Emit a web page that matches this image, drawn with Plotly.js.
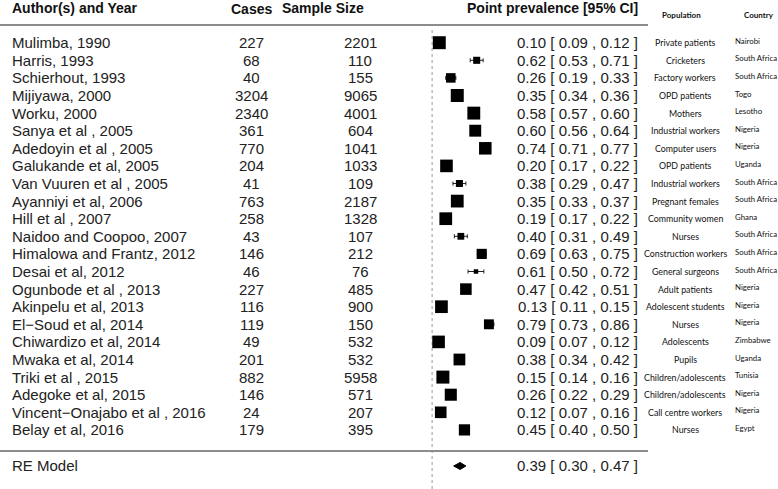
<!DOCTYPE html>
<html>
<head>
<meta charset="utf-8">
<script src="https://cdn.plot.ly/plotly-3.0.1.min.js"></script>
<style>html,body{margin:0;padding:0;background:#fff;}#chart{width:778px;height:489px;}</style>
</head>
<body>
<div id="chart"></div>
<script>
// ---- data ----
const authors = ["Mulimba, 1990","Harris, 1993","Schierhout, 1993","Mijiyawa, 2000","Worku, 2000","Sanya et al , 2005","Adedoyin et al , 2005","Galukande et al, 2005","Van Vuuren et al , 2005","Ayanniyi et al, 2006","Hill et al , 2007","Naidoo and Coopoo, 2007","Himalowa and Frantz, 2012","Desai et al, 2012","Ogunbode et al , 2013","Akinpelu et al, 2013","El\u2212Soud et al, 2014","Chiwardizo et al, 2014","Mwaka et al, 2014","Triki et al , 2015","Adegoke et al, 2015","Vincent\u2212Onajabo et al , 2016","Belay et al, 2016"];
const cases = [227,68,40,3204,2340,361,770,204,41,763,258,43,146,46,227,116,119,49,201,882,146,24,179];
const sampleSize = [2201,110,155,9065,4001,604,1041,1033,109,2187,1328,107,212,76,485,900,150,532,532,5958,571,207,395];
const estimate = [0.10,0.62,0.26,0.35,0.58,0.60,0.74,0.20,0.38,0.35,0.19,0.40,0.69,0.61,0.47,0.13,0.79,0.09,0.38,0.15,0.26,0.12,0.45];
const ciLower = [0.09,0.53,0.19,0.34,0.57,0.56,0.71,0.17,0.29,0.33,0.17,0.31,0.63,0.50,0.42,0.11,0.73,0.07,0.34,0.14,0.22,0.07,0.40];
const ciUpper = [0.12,0.71,0.33,0.36,0.60,0.64,0.77,0.22,0.47,0.37,0.22,0.49,0.75,0.72,0.51,0.15,0.86,0.12,0.42,0.16,0.29,0.16,0.50];
const population = ["Private patients","Cricketers","Factory workers","OPD patients","Mothers","Industrial workers","Computer users","OPD patients","Industrial workers","Pregnant females","Community women","Nurses","Construction workers","General surgeons","Adult patients","Adolescent students","Nurses","Adolescents","Pupils","Children/adolescents","Children/adolescents","Call centre workers","Nurses"];
const country = ["Nairobi","South Africa","South Africa","Togo","Lesotho","Nigeria","Nigeria","Uganda","South Africa","South Africa","Ghana","South Africa","South Africa","South Africa","Nigeria","Nigeria","Nigeria","Zimbabwe","Uganda","Tunisia","Nigeria","Nigeria","Egypt"];
const reLabel = "RE Model";
const reEstimate = 0.39, reLower = 0.30, reUpper = 0.47;

// ---- layout constants ----
const W = 778, H = 489;
const rows = authors.map((_, i) => i);
const reRow = 24.05;
const px = x => x / W;

// random-effects weights (DerSimonian-Laird) for square sizes
const p = cases.map((c, i) => c / sampleSize[i]);
const vi = p.map((pi, i) => pi * (1 - pi) / sampleSize[i]);
const wf = vi.map(v => 1 / v);
const sw = wf.reduce((a, b) => a + b, 0);
const ybar = p.reduce((a, pi, i) => a + wf[i] * pi, 0) / sw;
const Q = p.reduce((a, pi, i) => a + wf[i] * (pi - ybar) ** 2, 0);
const sw2 = wf.reduce((a, b) => a + b * b, 0);
const tau2 = Math.max(0, (Q - (p.length - 1)) / (sw - sw2 / sw));
const wr = vi.map(v => 1 / (v + tau2));
const wmin = Math.min(...wr), wmax = Math.max(...wr);
const msize = wr.map(w => 4.5 + 8.5 * (w - wmin) / (wmax - wmin));

const txtFont = {family: "Liberation Sans, Arial, sans-serif", size: 15, color: "#222"};
const hdrFont = {family: "Liberation Sans, Arial, sans-serif", size: 14, color: "#111", weight: "bold"};
const popFont = {family: "Lato, Carlito, sans-serif", size: 8.8, color: "#111"};
const ctyFont = {family: "Lato, Carlito, sans-serif", size: 7.8, color: "#111"};
const smallHdr = {family: "Lato, Carlito, sans-serif", size: 8, color: "#111", weight: "bold"};

const ann = [];
function add(x, y, text, font, anchor, yshift) {
  ann.push({xref: "paper", yref: "y", x: px(x), y: y, text: text, showarrow: false,
    xanchor: anchor, yanchor: "middle", font: font, yshift: yshift || 0, borderpad: 0});
}
rows.forEach(i => {
  add(11, i, authors[i], txtFont, "left");
  add(252, i, String(cases[i]), txtFont, "center");
  add(360, i, String(sampleSize[i]), txtFont, "center");
  add(639, i, estimate[i].toFixed(2) + " [ " + ciLower[i].toFixed(2) + " , " + ciUpper[i].toFixed(2) + " ]", txtFont, "right");
  add(685, i, population[i], popFont, "center");
  add(734, i, country[i], ctyFont, "left", 2);
});
add(11, reRow, reLabel, txtFont, "left");
add(639, reRow, reEstimate.toFixed(2) + " [ " + reLower.toFixed(2) + " , " + reUpper.toFixed(2) + " ]", txtFont, "right");
// headers
add(11, -1.97, "Author(s) and Year", hdrFont, "left");
add(252, -1.9, "Cases", hdrFont, "center");
add(323, -1.97, "Sample Size", hdrFont, "center");
add(639, -1.97, "Point prevalence [95% CI]", hdrFont, "right");
add(681, -1.6, "Population", smallHdr, "center");
add(759, -1.6, "Country", smallHdr, "center");

const whiskers = {
  type: "scatter", mode: "markers", x: estimate, y: rows,
  marker: {size: 1, color: "rgba(0,0,0,0)"},
  error_x: {type: "data", symmetric: false,
    array: ciUpper.map((u, i) => u - estimate[i]),
    arrayminus: ciLower.map((l, i) => estimate[i] - l),
    color: "#222", thickness: 1, width: 2},
  hoverinfo: "skip", showlegend: false
};
const squares = {
  type: "scatter", mode: "markers", x: estimate, y: rows,
  marker: {symbol: "square", size: msize, color: "#000", opacity: 1, line: {width: 0}},
  hoverinfo: "skip", showlegend: false
};
const dh = 0.2;
const diamond = {
  type: "scatter", mode: "lines",
  x: [reLower, reEstimate, reUpper, reEstimate, reLower],
  y: [reRow, reRow - dh, reRow, reRow + dh, reRow],
  fill: "toself", fillcolor: "#000", line: {color: "#000", width: 1},
  hoverinfo: "skip", showlegend: false
};

const x0px = 432.1, unit = 71.9;
const layout = {
  width: W, height: H, margin: {l: 0, r: 0, t: 0, b: 0},
  paper_bgcolor: "#fff", plot_bgcolor: "#fff",
  xaxis: {visible: false, range: [-x0px / unit, (W - x0px) / unit], fixedrange: true},
  yaxis: {visible: false, range: [(H - 42.7) / 17.6, -42.7 / 17.6], fixedrange: true},
  showlegend: false,
  annotations: ann,
  shapes: [
    {type: "line", xref: "x", yref: "paper", x0: 0, x1: 0, y0: 0, y1: 1 - 27 / H,
      line: {color: "#999", width: 1, dash: "dot"}, layer: "below"},
    {type: "line", xref: "paper", yref: "paper", x0: 0, x1: px(648), y0: 1 - 25 / H, y1: 1 - 25 / H,
      line: {color: "#8c8c8c", width: 2}},
    {type: "line", xref: "paper", yref: "paper", x0: 0, x1: px(648), y0: 1 - 451 / H, y1: 1 - 451 / H,
      line: {color: "#8c8c8c", width: 2}}
  ]
};
Plotly.newPlot("chart", [whiskers, squares, diamond], layout, {staticPlot: true, displayModeBar: false});
</script>
</body>
</html>
